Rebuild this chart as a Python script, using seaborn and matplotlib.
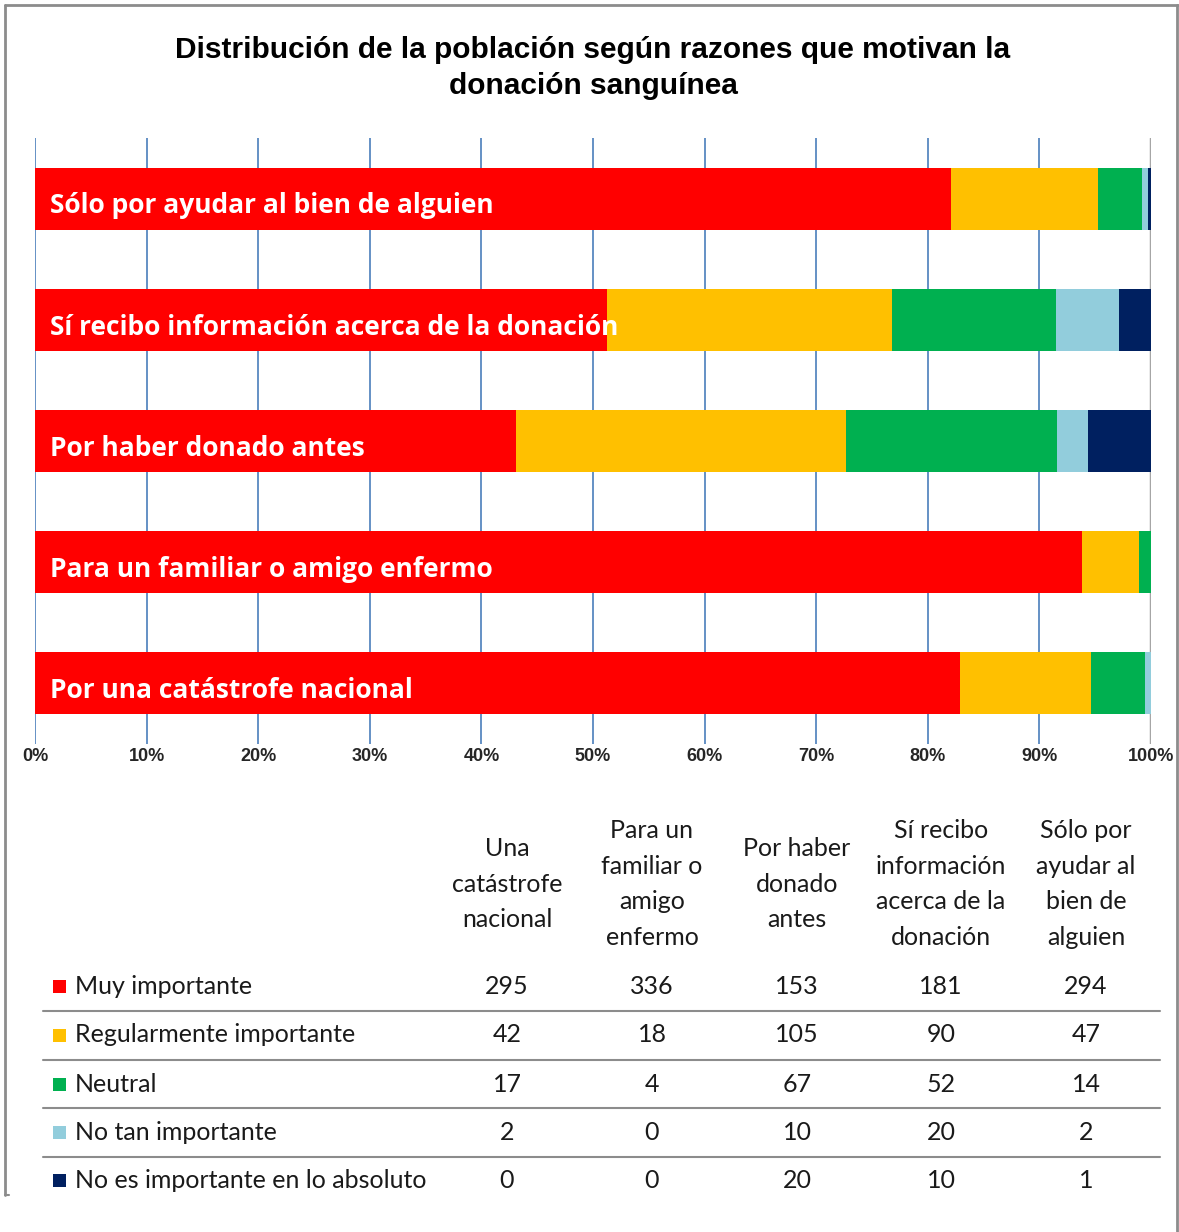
import matplotlib
matplotlib.use("Agg")
import matplotlib.pyplot as plt
import seaborn as sns
import numpy as np
import pandas as pd
from matplotlib.lines import Line2D
from matplotlib.patches import Rectangle

# ---------------- data ----------------
title = "Distribución de la población según razones que motivan la\ndonación sanguínea"

# table column order
table_headers = [
    "Una\ncatástrofe\nnacional",
    "Para un\nfamiliar o\namigo\nenfermo",
    "Por haber\ndonado\nantes",
    "Sí recibo\ninformación\nacerca de la\ndonación",
    "Sólo por\nayudar al\nbien de\nalguien",
]
bar_labels = [
    "Por una catástrofe nacional",
    "Para un familiar o amigo enfermo",
    "Por haber donado antes",
    "Sí recibo información acerca de la donación",
    "Sólo por ayudar al bien de alguien",
]
series_names = [
    "Muy importante",
    "Regularmente importante",
    "Neutral",
    "No tan importante",
    "No es importante en lo absoluto",
]
muy_importante = [295, 336, 153, 181, 294]
regularmente_importante = [42, 18, 105, 90, 47]
neutral = [17, 4, 67, 52, 14]
no_tan_importante = [2, 0, 10, 20, 2]
no_es_importante = [0, 0, 20, 10, 1]
series_values = [muy_importante, regularmente_importante, neutral,
                 no_tan_importante, no_es_importante]
colors = ["#FF0000", "#FFC000", "#00B050", "#92CDDC", "#002060"]
xticks = [0, 10, 20, 30, 40, 50, 60, 70, 80, 90, 100]
xtick_labels = [f"{t}%" for t in xticks]

# ---------------- figure ----------------
W, H = 1179, 1232
fig = plt.figure(figsize=(W / 100, H / 100), dpi=100)
sns.set_style("white")
plt.rcParams["font.family"] = ["Lato", "DejaVu Sans"]

def fx(px):
    return px / W

def fy(py):
    return 1 - py / H

# border frame
fig.add_artist(Line2D([fx(5), fx(1179)], [fy(5), fy(5)], color="#8c8c8c", lw=2))
fig.add_artist(Line2D([fx(5), fx(5)], [fy(5), fy(1195)], color="#8c8c8c", lw=2))
fig.add_artist(Line2D([fx(5), fx(9)], [fy(1195), fy(1195)], color="#8c8c8c", lw=1.5))
fig.add_artist(Line2D([fx(1177), fx(1177)], [fy(5), fy(1232)], color="#8c8c8c", lw=2))

fig.text(fx(593), fy(68), title, ha="center", va="center", fontsize=21.5,
         fontweight="bold", color="black",
         family=["Liberation Sans Narrow", "Liberation Sans", "DejaVu Sans"],
         linespacing=1.32)

# ---------------- bar chart ----------------
ax_l, ax_r, ax_t, ax_b = 35, 1151, 138, 744
ax = fig.add_axes([fx(ax_l), fy(ax_b), fx(ax_r - ax_l), (ax_b - ax_t) / H])

order = list(range(len(bar_labels)))[::-1]  # top row is the last table column
df = pd.DataFrame({name: vals for name, vals in zip(series_names, series_values)})
df["label"] = bar_labels
df = df.iloc[order].reset_index(drop=True)
totals = df[series_names].sum(axis=1)
pct = df[series_names].div(totals, axis=0) * 100
cum = pct.cumsum(axis=1)

# grid lines beneath bars
for t in xticks:
    ax.axvline(t, color="#4A7EBB" if t < 100 else "#A6A6A6", lw=1.2 if t < 100 else 2.5,
               zorder=0)

for k in range(len(series_names) - 1, -1, -1):
    plot_df = pd.DataFrame({"label": df["label"], "val": cum[series_names[k]]})
    sns.barplot(data=plot_df, x="val", y="label", orient="h", color=colors[k],
                saturation=1, width=0.51, ax=ax, zorder=2, edgecolor="none",
                linewidth=0)

for i, lab in enumerate(df["label"]):
    ax.text(1.3, i + 0.06, lab, color="white", fontsize=19, fontweight="bold",
            ha="left", va="center", zorder=5, family=["Open Sans", "DejaVu Sans"])

ax.set_xlim(0, 100)
ax.set_ylim(4.5, -0.5)
ax.set_xticks(xticks)
ax.set_xticklabels(xtick_labels, fontsize=13, fontweight="bold",
                   family=["Liberation Sans Narrow", "Liberation Sans", "DejaVu Sans"])
ax.set_yticks([])
ax.set_xlabel("")
ax.set_ylabel("")
for s in ax.spines.values():
    s.set_visible(False)
ax.set_facecolor("none")
for lbl in ax.get_xticklabels():
    lbl.set_va("center")
ax.tick_params(axis="x", length=0, pad=9)

# ---------------- data table ----------------
col_x = [507, 652, 797, 941, 1086]
row_y = [986, 1035, 1084, 1132, 1180]
line_y = [1011, 1060, 1108, 1157]
tfont = ["Lato", "DejaVu Sans"]

for cx, hdr in zip(col_x, table_headers):
    fig.text(fx(cx), fy(884), hdr, ha="center", va="center", fontsize=18,
             family=tfont, linespacing=1.65, color="#1a1a1a")

for ly in line_y:
    fig.add_artist(Line2D([fx(43), fx(1160)], [fy(ly), fy(ly)], color="#8c8c8c", lw=1.5))

for r, (name, vals) in enumerate(zip(series_names, series_values)):
    ry = row_y[r]
    fig.add_artist(Rectangle((fx(53), fy(ry + 7)), fx(13), 13 / H,
                             facecolor=colors[r], edgecolor="none"))
    fig.text(fx(75), fy(ry), name, ha="left", va="center", fontsize=18,
             family=tfont, color="#1a1a1a")
    for cx, v in zip(col_x, vals):
        fig.text(fx(cx), fy(ry), str(v), ha="center", va="center", fontsize=18,
                 family=tfont, color="#1a1a1a")

fig.savefig("out.png", dpi=100)
